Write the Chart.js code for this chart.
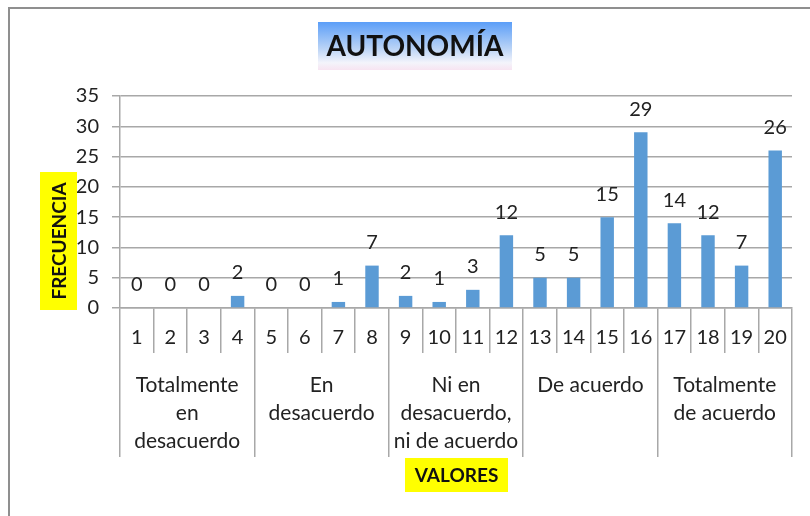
<!DOCTYPE html>
<html>
<head>
<meta charset="utf-8">
<script src="https://cdn.jsdelivr.net/npm/chart.js@4.4.1/dist/chart.umd.min.js"></script>
<style>
  html,body{margin:0;padding:0;background:#fff;}
  #wrap{position:relative;width:810px;height:516px;overflow:hidden;}
  #frame{position:absolute;left:8px;top:7px;width:900px;height:600px;border-left:2px solid #8f8f8f;border-top:2px solid #8f8f8f;}
  canvas{position:absolute;left:0;top:0;}
</style>
</head>
<body>
<div id="wrap">
  <div id="frame"></div>
  <canvas id="chart" width="810" height="516"></canvas>
</div>
<script>
// datos del gráfico
const VALORES = ['1','2','3','4','5','6','7','8','9','10','11','12','13','14','15','16','17','18','19','20'];
const FRECUENCIA = [0,0,0,2,0,0,1,7,2,1,3,12,5,5,15,29,14,12,7,26];
const GRUPOS = [
  ['Totalmente','en','desacuerdo'],
  ['En','desacuerdo'],
  ['Ni en','desacuerdo,','ni de acuerdo'],
  ['De acuerdo'],
  ['Totalmente','de acuerdo']
];
const Y_TICKS = [0,5,10,15,20,25,30,35];

const FONT = 'Lato, Calibri, "Open Sans", sans-serif';
const GRID = '#a8a8a8';
const TXT = '#222';

function qs(sel){return document.querySelector(sel);}

// etiquetas de valor encima de las barras
const valueLabels = {
  id:'valueLabels',
  afterDatasetsDraw(chart){
    const ctx = chart.ctx;
    const meta = chart.getDatasetMeta(0);
    ctx.save();
    ctx.font = '20px ' + FONT;
    ctx.fillStyle = TXT;
    ctx.textAlign = 'center';
    ctx.textBaseline = 'middle';
    meta.data.forEach((bar,i)=>{
      ctx.fillText(String(FRECUENCIA[i]), bar.x, bar.y - 23);
    });
    ctx.restore();
  }
};

// título y títulos de ejes con fondo
const boxedTitles = {
  id:'boxedTitles',
  afterDraw(chart, args, opts){
    const ctx = chart.ctx;
    opts.items.forEach(it=>{
      ctx.save();
      let fill = it.bg;
      if(it.gradient){
        fill = ctx.createLinearGradient(0, it.y, 0, it.y + it.h);
        fill.addColorStop(0, '#5b9ef8');
        fill.addColorStop(0.55, '#b9d3f6');
        fill.addColorStop(0.85, '#f4f4fb');
        fill.addColorStop(1, '#f7e4f1');
      }
      ctx.fillStyle = fill;
      ctx.fillRect(it.x, it.y, it.w, it.h);
      ctx.translate(it.x + it.w/2, it.y + it.h/2);
      if(it.rotate) ctx.rotate(-Math.PI/2);
      ctx.font = 'bold ' + it.size + 'px ' + FONT;
      ctx.fillStyle = '#111';
      ctx.textAlign = 'center';
      ctx.textBaseline = 'middle';
      ctx.fillText(it.text, 0, 1);
      ctx.restore();
    });
  }
};

new Chart(qs('#chart'), {
  type:'bar',
  data:{
    labels:VALORES,
    datasets:[{label:'Frecuencia', data:FRECUENCIA, backgroundColor:'#5b9bd5',
      barPercentage:0.4, categoryPercentage:1}]
  },
  options:{
    responsive:false,
    animation:false,
    layout:{padding:{left:66, right:18, top:96, bottom:59}},
    plugins:{
      legend:{display:false},
      tooltip:{enabled:false},
      title:{display:false},
      boxedTitles:{items:[
        {text:'AUTONOMÍA', x:318, y:22, w:194, h:48, size:28, gradient:true},
        {text:'FRECUENCIA', x:40, y:172, w:37, h:138, size:19, bg:'#ffff00', rotate:true},
        {text:'VALORES', x:405, y:458, w:103, h:34, size:19, bg:'#ffff00'}
      ]}
    },
    scales:{
      y:{
        min:0, max:35,
        afterBuildTicks: s => { s.ticks = Y_TICKS.map(v=>({value:v})); },
        afterFit: s => { s.width = 54; },
        ticks:{font:{family:FONT, size:20}, color:TXT, padding:13},
        grid:{color:GRID, lineWidth:1.5, tickLength:8},
        border:{color:GRID, width:1.5}
      },
      x:{
        offset:true,
        afterFit: s => { s.height = 45; },
        ticks:{font:{family:FONT, size:20}, color:TXT, padding:-27, autoSkip:false, maxRotation:0, minRotation:0},
        grid:{offset:true, drawOnChartArea:false, color:GRID, lineWidth:1.5, tickLength:45},
        border:{color:GRID, width:1.5}
      },
      x2:{
        type:'category',
        position:'bottom',
        labels:GRUPOS,
        offset:true,
        afterFit: s => { s.height = 104; },
        ticks:{font:{family:FONT, size:21, lineHeight:'28px'}, color:TXT, padding:-86, autoSkip:false, maxRotation:0, minRotation:0},
        grid:{offset:true, drawOnChartArea:false, color:GRID, lineWidth:1.5, tickLength:104},
        border:{display:false}
      }
    }
  },
  plugins:[valueLabels, boxedTitles]
});
</script>
</body>
</html>
